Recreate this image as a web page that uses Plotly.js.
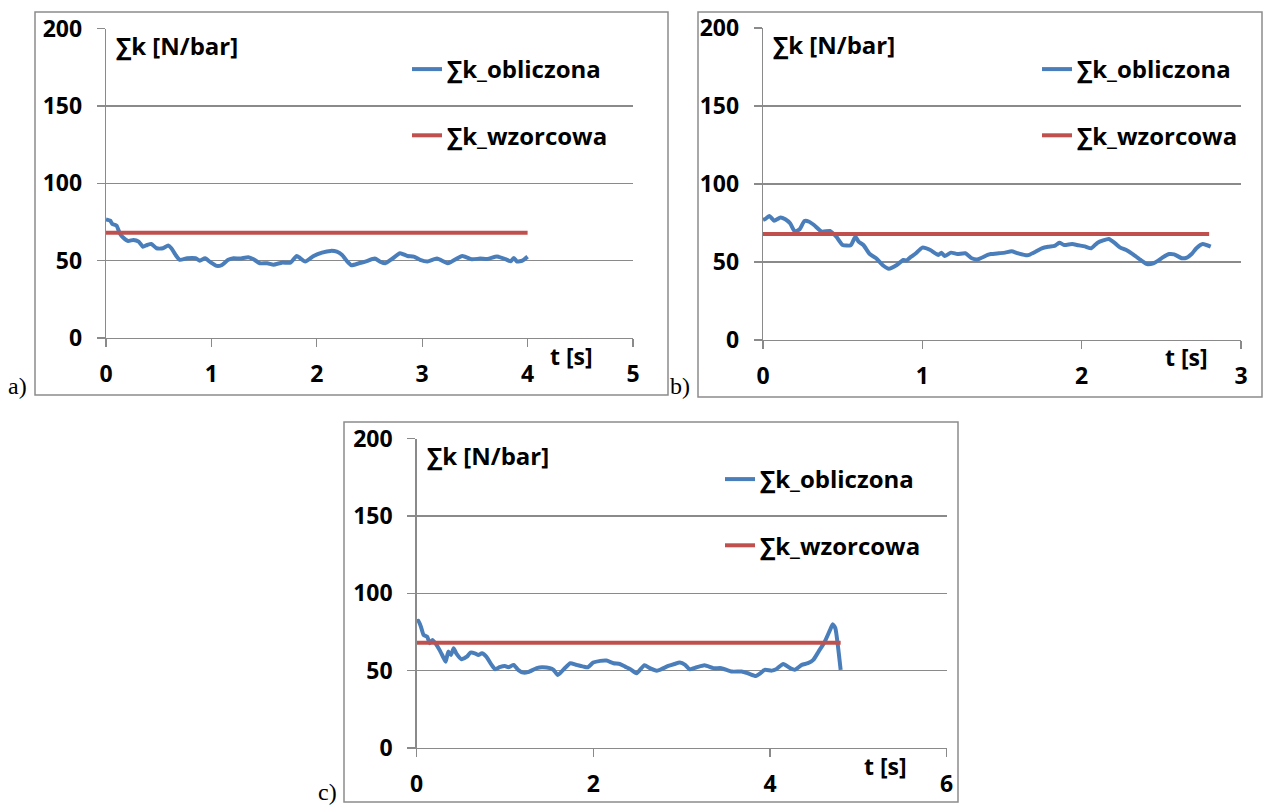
<!DOCTYPE html>
<html>
<head>
<meta charset="utf-8">
<script src="https://cdn.plot.ly/plotly-3.0.1.min.js"></script>
<style>
html,body{margin:0;padding:0;background:#fff;}
#chart{width:1265px;height:805px;}
</style>
</head>
<body>
<div id="chart"></div>
<script>
// ---- data ----
const seriesNames = ["\u2211k_obliczona", "\u2211k_wzorcowa"];
const panelLabels = ["a)", "b)", "c)"];
const yTitle = "\u2211k [N/bar]";
const xTitle = "t [s]";

const tA = [0,0.04,0.06,0.10,0.13,0.16,0.21,0.26,0.31,0.35,0.39,0.43,0.48,0.54,0.59,0.62,0.66,0.70,0.77,0.85,0.89,0.94,0.99,1.05,1.10,1.16,1.21,1.27,1.35,1.40,1.46,1.53,1.59,1.67,1.75,1.81,1.89,1.97,2.05,2.13,2.19,2.24,2.29,2.33,2.40,2.46,2.55,2.60,2.65,2.71,2.79,2.86,2.92,2.98,3.05,3.14,3.24,3.28,3.38,3.47,3.55,3.62,3.71,3.79,3.84,3.87,3.90,3.95,4.00];
const kA = [76.7,75.8,73.7,72.6,67.7,65.1,62.7,63.4,62.3,59.0,60.1,60.8,58.0,58.0,59.7,58.0,53.7,50.5,51.5,51.5,50.0,51.5,49.0,46.6,47.2,50.5,51.5,51.3,52.2,50.9,48.3,48.3,47.4,48.7,48.7,53.0,49.4,53.0,55.2,56.3,55.8,53.7,49.4,47.0,48.3,49.4,51.3,49.4,48.3,50.9,54.8,53.0,52.6,50.5,49.4,51.3,48.3,49.4,53.0,50.9,51.3,51.1,52.6,50.9,49.6,51.7,49.4,50.0,52.6];
const tRefA = [0, 4.0];
const kRefA = [68, 68];

const tB = [0,0.02,0.04,0.07,0.11,0.14,0.17,0.20,0.23,0.26,0.29,0.32,0.37,0.42,0.46,0.50,0.55,0.58,0.60,0.63,0.67,0.71,0.75,0.79,0.84,0.88,0.90,0.93,0.96,1.00,1.05,1.10,1.12,1.14,1.18,1.22,1.27,1.31,1.35,1.41,1.43,1.48,1.52,1.56,1.60,1.66,1.71,1.75,1.79,1.83,1.86,1.89,1.94,1.98,2.02,2.06,2.10,2.17,2.21,2.24,2.28,2.32,2.37,2.41,2.45,2.48,2.51,2.55,2.58,2.63,2.66,2.69,2.72,2.76,2.81];
const kB = [76.9,78.0,79.5,76.5,78.6,77.4,74.8,69.4,71.0,76.3,75.8,73.7,69.4,69.9,66.2,60.9,60.7,66.2,63.0,60.9,55.1,52.4,48.1,45.7,48.1,51.3,50.9,53.4,55.6,59.2,57.7,54.5,56.0,53.8,56.0,55.1,55.6,52.4,51.7,54.5,55.1,55.6,56.0,56.9,55.6,54.3,56.6,58.8,59.8,60.3,62.4,60.9,61.5,60.7,60.0,58.8,62.4,64.7,62.0,59.4,57.7,55.1,51.3,48.7,49.2,50.9,53.0,55.1,54.9,52.4,52.8,55.1,58.8,61.5,59.8];
const tRefB = [0, 2.8];
const kRefB = [68, 68];

const tC = [0,0.02,0.05,0.08,0.12,0.15,0.18,0.22,0.26,0.30,0.33,0.36,0.39,0.42,0.45,0.51,0.57,0.61,0.66,0.70,0.74,0.79,0.85,0.89,0.94,1.00,1.04,1.10,1.15,1.21,1.26,1.36,1.42,1.51,1.55,1.60,1.66,1.74,1.81,1.89,1.94,2.00,2.08,2.15,2.23,2.30,2.36,2.42,2.49,2.58,2.64,2.72,2.77,2.85,2.92,2.98,3.04,3.09,3.17,3.26,3.36,3.45,3.57,3.68,3.75,3.84,3.89,3.94,4.02,4.07,4.15,4.23,4.28,4.36,4.43,4.49,4.55,4.62,4.68,4.71,4.74,4.77,4.80];
const kC = [81.7,82.3,78.4,73.1,72.0,67.7,69.8,67.2,63.4,59.0,55.8,62.3,60.1,64.5,61.2,57.4,59.0,61.6,61.2,60.1,61.2,59.0,53.7,50.9,52.2,53.0,52.2,53.7,50.5,48.7,49.0,51.6,52.2,51.6,50.5,47.2,50.5,54.8,53.7,52.6,52.2,55.2,56.3,56.5,54.8,54.3,52.6,50.9,48.3,53.5,51.6,50.0,50.9,53.0,54.3,55.2,53.7,50.9,52.2,53.5,51.6,51.6,49.4,49.4,48.3,46.6,48.3,50.5,50.0,50.9,54.3,51.6,50.5,53.7,54.8,56.9,62.3,68.7,76.3,80.0,77.4,65.5,50.5];
const tRefC = [0, 4.8];
const kRefC = [68, 68];

const xRanges = [[0,5],[0,3],[0,6]];
const xDticks = [1,1,2];
const yRange = [0,200];
const yDtick = 50;

// ---- styling / layout ----
const W = 1265, H = 805;
const px = x => x / W;
const py = y => 1 - y / H;
const BLUE = "#4a7ebb", RED = "#c0504d", GRID = "#8a8a8a";
const FONT = "'Open Sans', Lato, sans-serif";
const FS = 23;

// plot areas in pixels [left, right, top(200), bottom(0)]
const areas = [
  [106, 633, 28.5, 338],
  [763, 1241, 28, 340],
  [416.5, 946.7, 438.5, 748]
];
const frames = [
  [35, 668, 12, 395],
  [698, 1262, 12, 397],
  [344, 958, 422, 802]
];

const blues = [[tA,kA],[tB,kB],[tC,kC]];
const reds = [[tRefA,kRefA],[tRefB,kRefB],[tRefC,kRefC]];
const legendIds = ["legend","legend2","legend3"];
const legendPos = [[407, 47],[1037, 47],[720, 457]];

const data = [];
const layout = {
  width: W, height: H,
  margin: {l:0, r:0, t:0, b:0},
  paper_bgcolor: "#fff", plot_bgcolor: "rgba(0,0,0,0)",
  showlegend: true,
  shapes: [], annotations: [],
  font: {family: FONT, color: "#000"}
};

for (let i = 0; i < 3; i++) {
  const sfx = i === 0 ? "" : String(i + 1);
  const xa = "x" + sfx, ya = "y" + sfx;
  data.push({
    x: blues[i][0], y: blues[i][1], xaxis: xa, yaxis: ya,
    type: "scatter", mode: "lines", name: seriesNames[0],
    line: {color: BLUE, width: 4, shape: "spline", smoothing: 0.5},
    legend: legendIds[i], legendgroup: "g1_" + i
  });
  data.push({
    x: reds[i][0], y: reds[i][1], xaxis: xa, yaxis: ya,
    type: "scatter", mode: "lines", name: seriesNames[1],
    line: {color: RED, width: 4},
    legend: legendIds[i], legendgroup: "g2_" + i
  });
  const a = areas[i];
  layout["xaxis" + sfx] = {
    domain: [px(a[0]), px(a[1])], anchor: ya,
    range: xRanges[i], dtick: xDticks[i], tick0: 0,
    showgrid: false, zeroline: false,
    showline: true, linecolor: GRID, linewidth: 1.3,
    ticks: "outside", ticklen: 8, tickcolor: GRID, tickwidth: 1.3,
    ticklabelstandoff: 7,
    tickfont: {family: FONT, size: FS, weight: "bold", color: "#000"},
    fixedrange: true
  };
  layout["yaxis" + sfx] = {
    domain: [py(a[3]), py(a[2])], anchor: xa,
    range: yRange, dtick: yDtick, tick0: 0,
    showgrid: true, gridcolor: GRID, gridwidth: 1.3, zeroline: false,
    showline: true, linecolor: GRID, linewidth: 1.3,
    ticks: "outside", ticklen: 8, tickcolor: GRID, tickwidth: 1.3,
    ticklabelstandoff: 10,
    tickfont: {family: FONT, size: FS, weight: "bold", color: "#000"},
    fixedrange: true
  };
  layout[legendIds[i]] = {
    x: px(legendPos[i][0]), y: py(legendPos[i][1]),
    xanchor: "left", yanchor: "top",
    bgcolor: "rgba(0,0,0,0)", borderwidth: 0,
    traceorder: "grouped", tracegroupgap: 32,
    font: {family: FONT, size: 24, weight: "bold", color: "#000"}
  };
  const f = frames[i];
  layout.shapes.push({
    type: "rect", xref: "paper", yref: "paper",
    x0: px(f[0]), x1: px(f[1]), y0: py(f[3]), y1: py(f[2]),
    line: {color: "#8c8c8c", width: 1.5}, fillcolor: "rgba(0,0,0,0)", layer: "below"
  });
  layout.annotations.push({
    xref: "paper", yref: "paper", x: px(a[0] + 8), y: py(a[2] + 17),
    xanchor: "left", yanchor: "middle", showarrow: false, text: yTitle,
    font: {family: FONT, size: 24, weight: "bold", color: "#000"}
  });
}
const tFont = {family: FONT, size: 23, weight: "bold", color: "#000"};
const lFont = {family: "'Liberation Serif', 'Times New Roman', serif", size: 24, color: "#000"};
layout.annotations.push(
  {xref:"paper", yref:"paper", x:px(571), y:py(356), xanchor:"center", yanchor:"middle", showarrow:false, text:xTitle, font:tFont},
  {xref:"paper", yref:"paper", x:px(1186), y:py(357), xanchor:"center", yanchor:"middle", showarrow:false, text:xTitle, font:tFont},
  {xref:"paper", yref:"paper", x:px(886), y:py(766), xanchor:"center", yanchor:"middle", showarrow:false, text:xTitle, font:tFont},
  {xref:"paper", yref:"paper", x:px(6), y:py(386), xanchor:"left", yanchor:"middle", showarrow:false, text:panelLabels[0], font:lFont},
  {xref:"paper", yref:"paper", x:px(668), y:py(386), xanchor:"left", yanchor:"middle", showarrow:false, text:panelLabels[1], font:lFont},
  {xref:"paper", yref:"paper", x:px(316), y:py(792), xanchor:"left", yanchor:"middle", showarrow:false, text:panelLabels[2], font:lFont}
);

Plotly.newPlot("chart", data, layout, {displayModeBar: false, staticPlot: true});
</script>
</body>
</html>
